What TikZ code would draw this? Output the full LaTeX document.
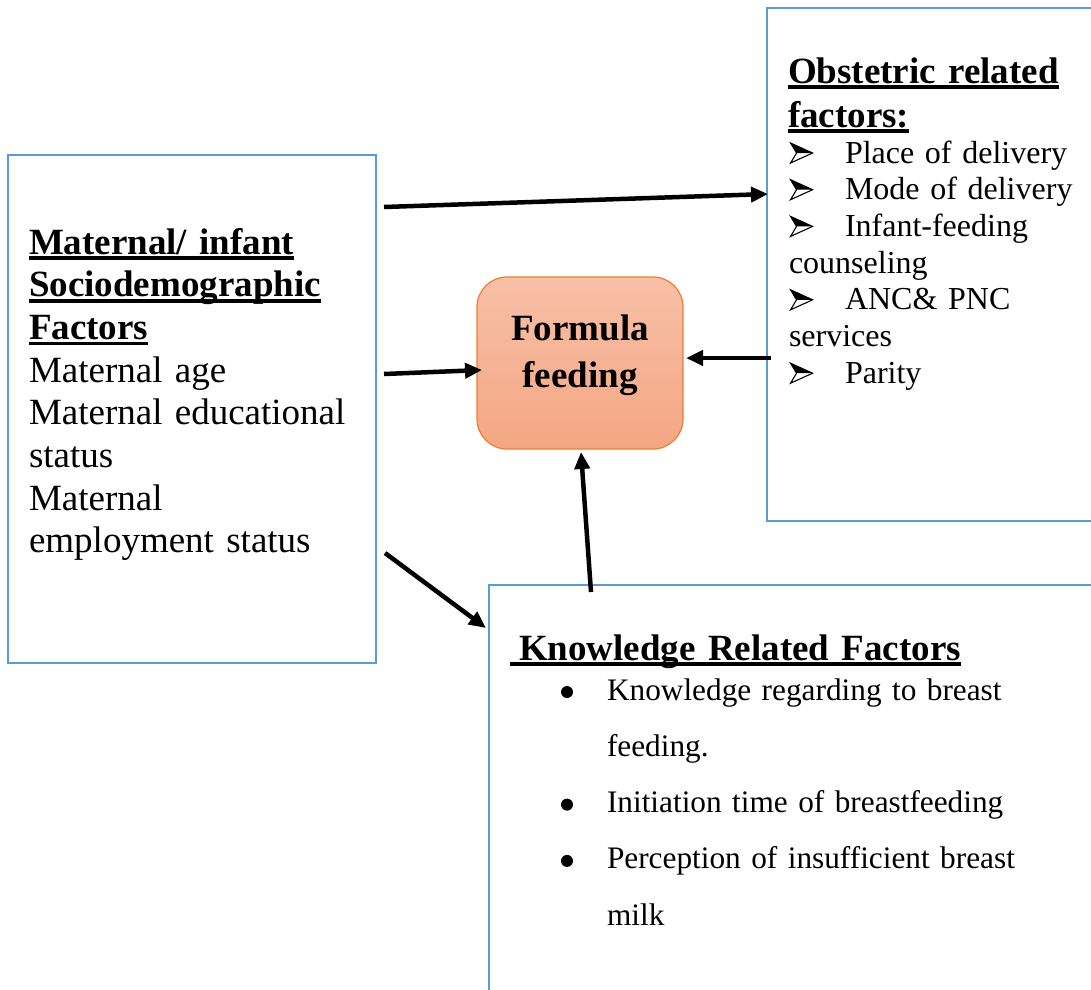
\documentclass[tikz,border=0pt]{standalone}
\usepackage{fontspec}
\setmainfont{Liberation Serif}
\usetikzlibrary{arrows.meta,calc}
\definecolor{boxblue}{RGB}{91,155,213}
\definecolor{fforange}{RGB}{237,125,49}
\definecolor{fftop}{RGB}{247,192,167}
\definecolor{ffbot}{RGB}{244,166,131}
\newcommand\myul[1]{\leavevmode\setbox0\hbox{#1}\rlap{\rule[-6pt]{\wd0}{3.8pt}}\box0}
\newcommand\arrowglyph{\tikz[x=1pt,y=1pt,baseline=0pt]{%
  \fill (0,20) -- (22,10) -- (6,10) -- cycle;
  \draw[line width=1.1pt,line join=miter] (0,20) -- (22,10) -- (0,0) -- (6,10) -- cycle;}}
\newcommand\bulletglyph{\tikz[x=1pt,y=1pt,baseline=0pt]{\fill (6,8) circle (6pt);}}
\newcommand\obsarrow{\makebox[56pt][l]{\hspace{1pt}\arrowglyph}}
\newcommand\kbul{\makebox[46pt][l]{\bulletglyph}}
\begin{document}
\begin{tikzpicture}[x=1pt,y=-1pt,
  frame/.style={rectangle,draw=boxblue,line width=2.2pt,inner sep=0pt,outer sep=0pt,anchor=north west},
  arr/.style={line width=4.5pt,-{Triangle[length=17pt,width=15pt]}},
  txt/.style={anchor=north west,inner sep=0pt,outer sep=0pt,align=left,text width=#1},
  ffbox/.style={rectangle,rounded corners=30pt,draw=fforange,line width=1.2pt,
    top color=fftop,bottom color=ffbot,minimum width=206pt,minimum height=172pt,
    inner sep=0pt,outer sep=0pt,align=center,font=\bfseries\fontsize{37}{47}\selectfont}
]
\useasboundingbox (0,0) rectangle (1091,989);
\clip (0,0) rectangle (1091,989);
\fill[white] (0,0) rectangle (1091,989);

\node[frame,minimum width=368pt,minimum height=508pt] (mat) at (8,155) {};
\node[frame,minimum width=330pt,minimum height=513pt] (obs) at (767,8) {};
\node[frame,minimum width=620pt,minimum height=420pt] (kno) at (489,585) {};
\node[ffbox] (ff) at (580,363) {Formula\\feeding\rule[-24pt]{0pt}{1pt}};

\node[txt=345pt,font=\fontsize{37}{42.7}\selectfont] (mattxt) at (29,224)
 {\rule{0pt}{30pt}\myul{\bfseries Maternal/ infant}\\
  \myul{\bfseries Sociodemographic}\\
  \myul{\bfseries Factors}\\
  Maternal age\\
  Maternal educational\\
  status\\
  Maternal\\
  employment status};

\node[txt=300pt,font=\bfseries\fontsize{37}{44}\selectfont] (obshead) at (788,53)
 {\rule{0pt}{30pt}\myul{Obstetric related}\\
  \myul{factors:}};

\node[txt=300pt,font=\fontsize{32}{36.7}\selectfont] (obsitems) at (789,137)
 {\rule{0pt}{26pt}\obsarrow Place of delivery\\
  \obsarrow Mode of delivery\\
  \obsarrow Infant-feeding\\
  counseling\\
  \obsarrow ANC\& PNC\\
  services\\
  \obsarrow Parity};

\node[txt=560pt,font=\bfseries\fontsize{37}{44}\selectfont] (knohead) at (510,630)
 {\rule{0pt}{30pt}\myul{\hspace*{9pt}Knowledge Related Factors}};

\node[txt=520pt,font=\fontsize{31.3}{56.3}\selectfont] (knoitems) at (561,674)
 {\rule{0pt}{26pt}\kbul Knowledge regarding to breast\\
  \hspace*{46pt}feeding.\\
  \kbul Initiation time of breastfeeding\\
  \kbul Perception of insufficient breast\\
  \hspace*{46pt}milk};

\draw[arr] ($(mat.north east)+(8,52)$) -- ($(obs.north west)+(1,186)$);
\draw[arr] ($(mat.north east)+(8,219)$) -- ($(ff.west)+(5,7)$);
\draw[arr] ($(obs.north west)+(4,350)$) -- ($(ff.east)+(3,-5)$);
\draw[arr] ($(kno.north west)+(102,7)$) -- ($(ff.south)+(1,3)$);
\draw[arr] ($(mat.north east)+(9,398)$) -- ($(kno.north west)+(-3,43)$);
\end{tikzpicture}
\end{document}
